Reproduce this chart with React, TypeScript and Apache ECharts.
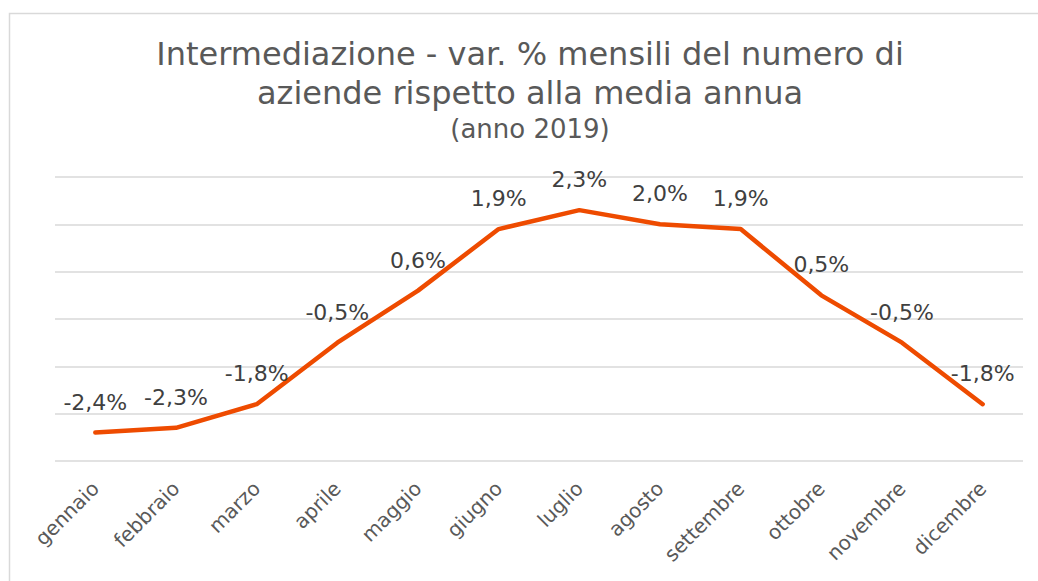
import React, { useEffect, useRef } from "react";
import * as echarts from "echarts";

const months = [
  "gennaio", "febbraio", "marzo", "aprile", "maggio", "giugno",
  "luglio", "agosto", "settembre", "ottobre", "novembre", "dicembre",
];
const variations = [-2.4, -2.3, -1.8, -0.5, 0.6, 1.9, 2.3, 2.0, 1.9, 0.5, -0.5, -1.8];
const titleLines = [
  "Intermediazione - var. % mensili del numero di",
  "aziende rispetto alla media annua",
];
const subtitle = "(anno 2019)";

const FONT = "DejaVu Sans, Verdana, sans-serif";

export default function App() {
  const ref = useRef<HTMLDivElement>(null);
  useEffect(() => {
    if (!ref.current) return;
    const chart = echarts.init(ref.current, undefined, { renderer: "svg" });
    chart.setOption({
      animation: false,
      backgroundColor: "#ffffff",
      graphic: [
        {
          type: "rect",
          shape: { x: 9.5, y: 13.5, width: 1100, height: 700 },
          style: { fill: "none", stroke: "#d9d9d9", lineWidth: 1.5 },
          silent: true,
        },
        {
          type: "text",
          x: 530,
          y: 54,
          style: {
            text: titleLines[0],
            font: `32px ${FONT}`,
            fill: "#595959",
            textAlign: "center",
            textVerticalAlign: "middle",
          },
        },
        {
          type: "text",
          x: 530,
          y: 93,
          style: {
            text: titleLines[1],
            font: `32px ${FONT}`,
            fill: "#595959",
            textAlign: "center",
            textVerticalAlign: "middle",
          },
        },
        {
          type: "text",
          x: 530,
          y: 129,
          style: {
            text: subtitle,
            font: `26px ${FONT}`,
            fill: "#595959",
            textAlign: "center",
            textVerticalAlign: "middle",
          },
        },
      ],
      grid: { left: 55, right: 15, top: 177, bottom: 120, containLabel: false },
      xAxis: {
        type: "category",
        data: months,
        boundaryGap: true,
        axisLine: { show: false },
        axisTick: { show: false },
        axisLabel: {
          rotate: 45,
          margin: 24,
          fontSize: 20,
          fontFamily: FONT,
          color: "#595959",
          interval: 0,
        },
      },
      yAxis: {
        type: "value",
        min: -3,
        max: 3,
        interval: 1,
        axisLine: { show: false },
        axisTick: { show: false },
        axisLabel: { show: false },
        splitLine: { show: true, lineStyle: { color: "#d9d9d9", width: 1.5 } },
      },
      series: [
        {
          type: "line",
          data: variations,
          showSymbol: true,
          symbol: "circle",
          symbolSize: 1,
          itemStyle: { color: "rgba(0,0,0,0)" },
          lineStyle: { color: "#ee4b00", width: 4.5, cap: "round", join: "round" },
          label: {
            show: true,
            position: "top",
            distance: 19,
            fontSize: 22,
            fontFamily: FONT,
            color: "#404040",
            formatter: (p: any) => p.value.toFixed(1).replace(".", ",") + "%",
          },
        },
      ],
    });
    return () => chart.dispose();
  }, []);
  return (
    <div
      ref={ref}
      style={{ position: "absolute", left: 0, top: 0, width: 1038, height: 581 }}
    />
  );
}
